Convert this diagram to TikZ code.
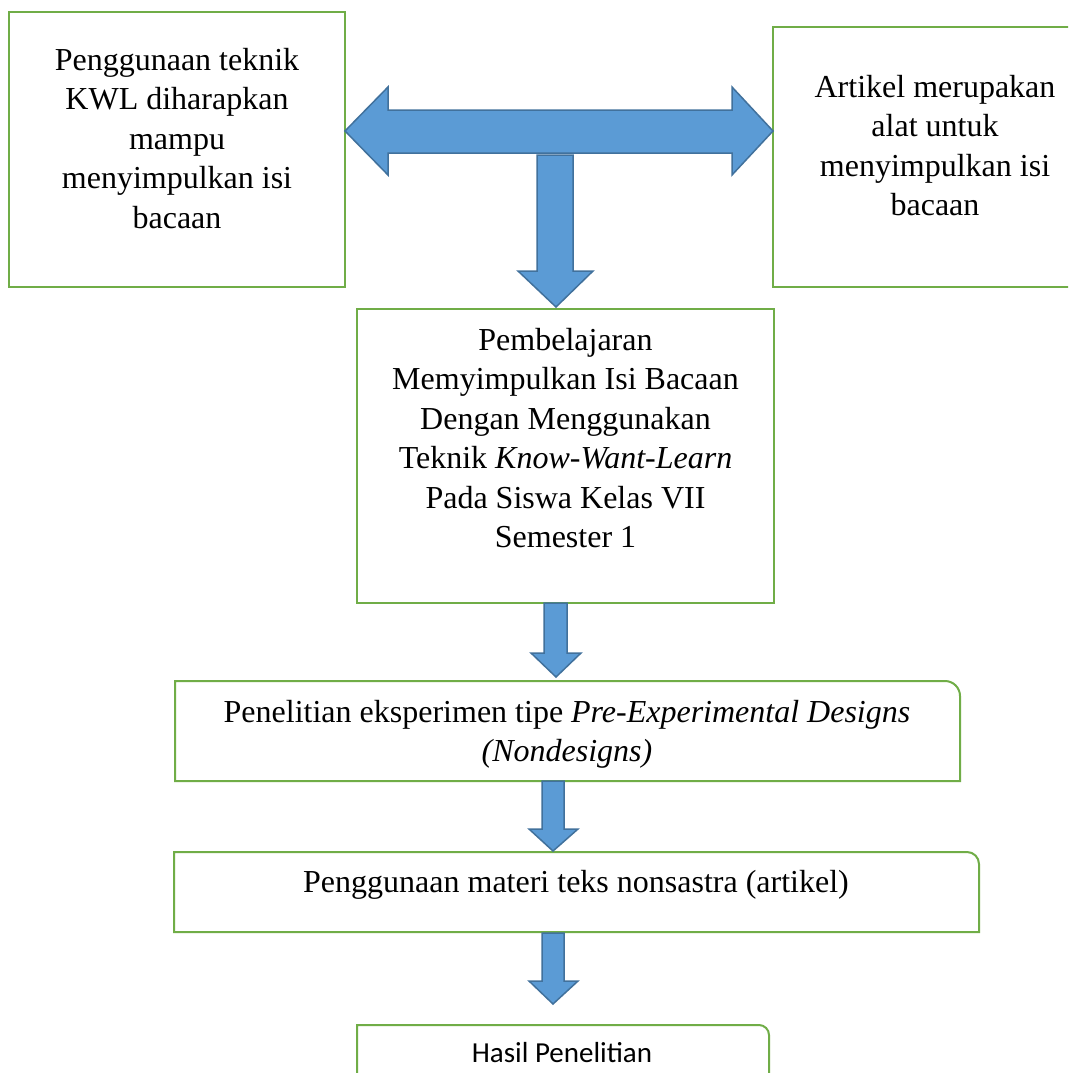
\documentclass[tikz,border=0pt]{standalone}
\usepackage{fontspec}
\setmainfont{Liberation Serif}
\newfontfamily\calibrifont{Carlito}
\definecolor{boxgreen}{HTML}{70AD47}
\definecolor{arrowfill}{HTML}{5B9BD5}
\definecolor{arrowline}{HTML}{41719C}
\newcommand{\ls}{\rule[-9pt]{0pt}{39.5pt}}
\begin{document}
\begin{tikzpicture}[x=1pt,y=-1pt,
  boxframe/.style={draw=boxgreen,line width=2pt},
  blockarrow/.style={fill=arrowfill,draw=arrowline,line width=1.5pt,line join=miter},
  txt/.style={font=\fontsize{32}{39.5}\selectfont,align=center,inner sep=0pt}]
\useasboundingbox (0,0) rectangle (1068,1073);
\fill[white] (0,0) rectangle (1068,1073);
\clip (0,0) rectangle (1068,1073);

% frames
\draw[boxframe] (9,12) rectangle (345,287);
\draw[boxframe] (773,27) rectangle (1097,287);
\draw[boxframe] (357,309) rectangle (774,603);
\draw[boxframe] (175,781) -- (175,681) -- (945,681) .. controls (953.28,681) and (960,687.72) .. (960,696) -- (960,781) -- cycle;
\draw[boxframe] (174,932) -- (174,852) -- (967,852) .. controls (973.6,852) and (979,857.4) .. (979,864) -- (979,932) -- cycle;
\draw[boxframe] (357,1095) -- (357,1025) -- (759,1025) .. controls (764.5,1025) and (769,1029.5) .. (769,1035) -- (769,1095);

% texts
\node[txt] (kwl) at (177,138.25) {\ls Penggunaan teknik\\\ls KWL diharapkan\\\ls mampu\\\ls menyimpulkan isi\\\ls bacaan};
\node[txt] (artikel) at (935,145.5) {\ls Artikel merupakan\\\ls alat untuk\\\ls menyimpulkan isi\\\ls bacaan};
\node[txt] (pembelajaran) at (565.5,438) {\ls Pembelajaran\\\ls Memyimpulkan Isi Bacaan\\\ls Dengan Menggunakan\\\ls Teknik \textit{Know-Want-Learn}\\\ls Pada Siswa Kelas VII\\\ls Semester 1};
\node[txt] (penelitian) at (567,731) {\ls Penelitian eksperimen tipe \textit{Pre-Experimental Designs}\\\ls \textit{(Nondesigns)}};
\node[txt,anchor=base] (materi) at (576,892) {Penggunaan materi teks nonsastra (artikel)};
\node[inner sep=0pt,anchor=base,font=\calibrifont\fontsize{29}{35}\selectfont] (hasil) at (562,1062) {Hasil Penelitian};

% block arrows
\draw[blockarrow] (345,131) -- (388,87) -- (388,110) -- (732,110) -- (732,87) -- (773,131) -- (732,175) -- (732,153) -- (388,153) -- (388,175) -- cycle;
\draw[blockarrow] (537,155) -- (573,155) -- (573,271) -- (593,271) -- (556,307) -- (518,271) -- (537,271) -- cycle;
\draw[blockarrow] (544,603) -- (567,603) -- (567,653) -- (581,653) -- (556,677) -- (531,653) -- (544,653) -- cycle;
\draw[blockarrow] (542,781) -- (564,781) -- (564,829) -- (578,829) -- (553,851) -- (529,829) -- (542,829) -- cycle;
\draw[blockarrow] (542,933) -- (564,933) -- (564,981) -- (578,981) -- (553,1004) -- (529,981) -- (542,981) -- cycle;
\end{tikzpicture}
\end{document}
